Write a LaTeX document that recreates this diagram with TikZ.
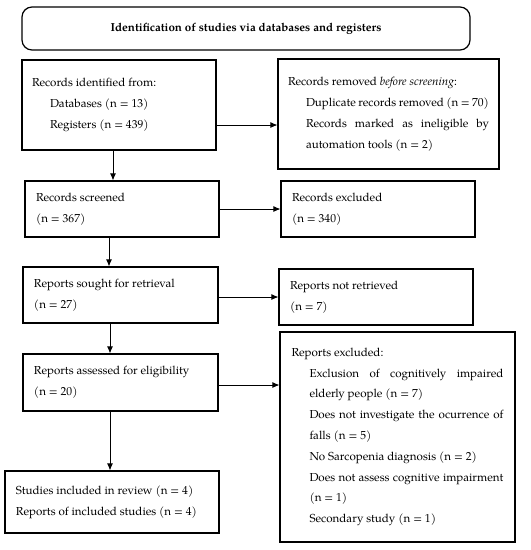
\documentclass[tikz,border=0pt]{standalone}
\usepackage{fontspec}
\setmainfont{TeX Gyre Pagella}
\usetikzlibrary{arrows.meta}
\newcommand\myfont{\fontsize{11.6}{20.8}\selectfont}
\newcommand\myind[1]{\par{\leftskip=18pt\relax #1\par}}
\begin{document}
\begin{tikzpicture}[x=1pt,y=-1pt,
  box/.style={draw, line width=1.2pt, rectangle, inner sep=0pt, font=\myfont, align=justify},
  arr/.style={-{Latex[length=7pt,width=6pt]}, line width=0.8pt}]
\useasboundingbox (0,0) rectangle (531,550);
\node[draw, line width=1.2pt, rounded corners=10pt, minimum width=448pt, minimum height=43pt,
  font=\fontsize{11.6}{14}\selectfont\bfseries] (t) at (246,28.5)
  {Identification of studies via databases and registers};
\node[box, minimum width=194pt, minimum height=90pt, text width=174pt] (b1) at (119,105)
  {Records identified from:\myind{Databases (n = 13)}\myind{Registers (n = 439)}};
\node[box, minimum width=221pt, minimum height=110pt, text width=201pt] (r1) at (388.5,114)
  {Records removed \emph{before screening}:\myind{Duplicate records removed (n = 70)}\myind{Records marked as ineligible by\linebreak automation tools (n = 2)}};
\node[box, minimum width=194pt, minimum height=56pt, text width=172pt] (b2) at (122,209)
  {Records screened\par (n = 367)};
\node[box, minimum width=194pt, minimum height=56pt, text width=172pt] (r2) at (378,209)
  {Records excluded\par (n = 340)};
\node[box, minimum width=195pt, minimum height=56pt, text width=173pt] (b3) at (120.5,295)
  {Reports sought for retrieval\par (n = 27)};
\node[box, minimum width=194pt, minimum height=56pt, text width=172pt] (r3) at (376,297)
  {Reports not retrieved\par (n = 7)};
\node[box, minimum width=195pt, minimum height=57pt, text width=173pt] (b4) at (120.5,382.5)
  {Reports assessed for eligibility\par (n = 20)};
\node[box, minimum width=235pt, minimum height=210pt, text width=212pt] (r4) at (397.5,437)
  {Reports excluded:\myind{Exclusion of cognitively impaired\linebreak elderly people (n = 7)}\myind{Does not investigate the ocurrence of\linebreak falls (n = 5)}\myind{No Sarcopenia diagnosis (n = 2)}\myind{Does not assess cognitive impairment\linebreak (n = 1)}\myind{Secondary study (n = 1)}};
\node[box, minimum width=214pt, minimum height=62pt, text width=192pt] (b5) at (112,502)
  {Studies included in review (n = 4)\par Reports of included studies (n = 4)};
\draw[arr] ([xshift=-6pt]b1.south) -- ([xshift=-6pt]b1.south |- b2.north);
\draw[arr] ([yshift=-20pt]b1.east) -- ([yshift=-20pt]b1.east -| r1.west);
\draw[arr] (b2.east) -- (r2.west);
\draw[arr] ([xshift=-13pt]b2.south) -- ([xshift=-13pt]b2.south |- b3.north);
\draw[arr] (b3.east |- r3.west) -- (r3.west);
\draw[arr] ([xshift=-10.5pt]b3.south) -- ([xshift=-10.5pt]b3.south |- b4.north);
\draw[arr] ([yshift=-2.5pt]b4.east) -- ([yshift=-2.5pt]b4.east -| r4.west);
\draw[arr] ([xshift=-10.5pt]b4.south) -- ([xshift=-10.5pt]b4.south |- b5.north);
\end{tikzpicture}
\end{document}
